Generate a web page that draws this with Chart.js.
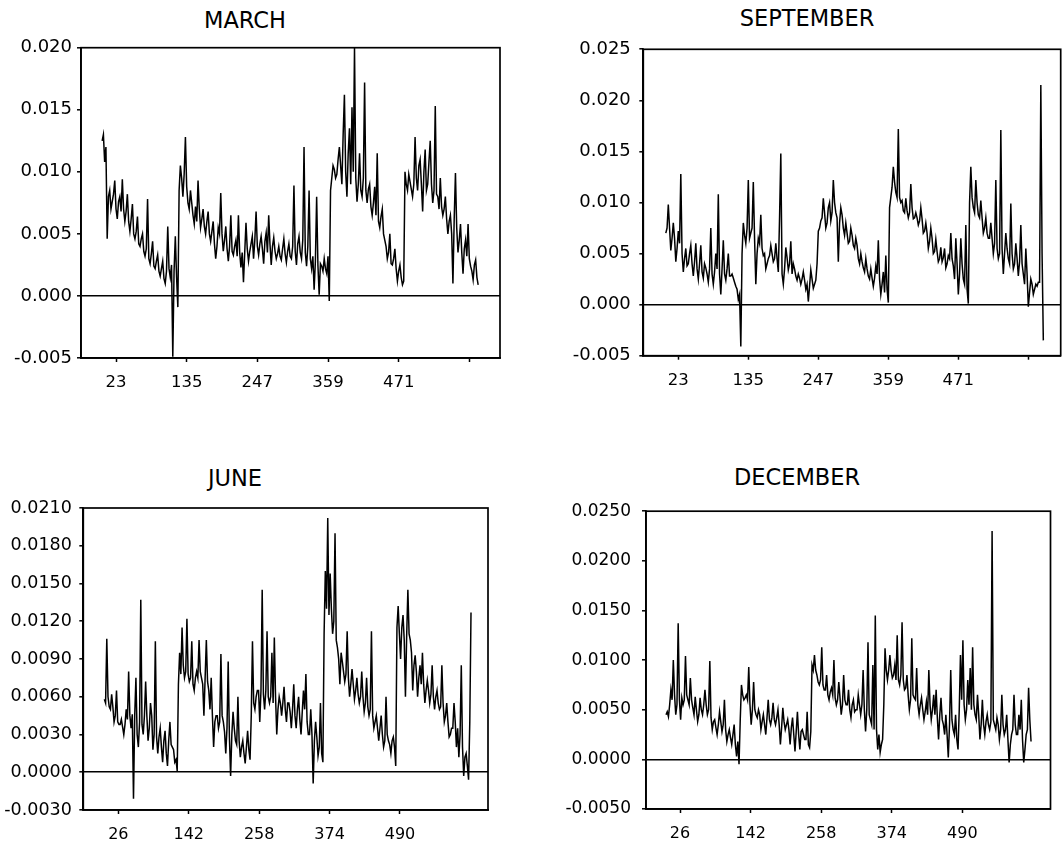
<!DOCTYPE html>
<html>
<head>
<meta charset="utf-8">
<script src="https://cdn.jsdelivr.net/npm/chart.js@4.4.1/dist/chart.umd.min.js"></script>
<style>
  body { margin: 0; background: #fff; width: 1063px; height: 844px; position: relative; overflow: hidden; font-family: 'DejaVu Sans', sans-serif; }
  canvas { position: absolute; }
  .title { position: absolute; transform: translate(-50%, -50%); font-size: 22.5px; line-height: 1; color: #000; white-space: nowrap; }
</style>
</head>
<body>
<div class="title" style="left:245px; top:20px">MARCH</div>
<div class="title" style="left:807px; top:18px">SEPTEMBER</div>
<div class="title" style="left:235px; top:478px">JUNE</div>
<div class="title" style="left:797px; top:477px">DECEMBER</div>
<canvas id="march" width="520" height="380" style="left:0px; top:30px"></canvas>
<canvas id="september" width="523" height="380" style="left:540px; top:30px"></canvas>
<canvas id="june" width="520" height="354" style="left:0px; top:490px"></canvas>
<canvas id="december" width="523" height="354" style="left:540px; top:490px"></canvas>
<script>
// Hourly series, two interleaved readings: "values" every 4th hour from the
// start hour, "mids" every 4th hour from two hours after the start hour.
const sampleStep = 4;

const marchStart = 1;
const marchValues = [
  0.0125, 0.0108, 0.0046, 0.0085, 0.0076, 0.0093, 0.0062, 0.0080, 0.0094, 0.0060,
  0.0082, 0.0052, 0.0074, 0.0046, 0.0064, 0.0040, 0.0050, 0.0032, 0.0078, 0.0026,
  0.0044, 0.0022, 0.0033, 0.0016, 0.0028, 0.0010, 0.0056, 0.0015, -0.0049, 0.0048,
  -0.0009, 0.0105, 0.0080, 0.0128, 0.0075, 0.0085, 0.0065, 0.0072, 0.0093, 0.0055,
  0.0070, 0.0050, 0.0068, 0.0044, 0.0060, 0.0030, 0.0055, 0.0083, 0.0036, 0.0056,
  0.0028, 0.0065, 0.0033, 0.0045, 0.0065, 0.0023, 0.0011, 0.0059, 0.0028, 0.0042,
  0.0030, 0.0068, 0.0033, 0.0048, 0.0026, 0.0051, 0.0065, 0.0025, 0.0047, 0.0030,
  0.0040, 0.0029, 0.0046, 0.0027, 0.0042, 0.0030, 0.0089, 0.0025, 0.0048, 0.0030,
  0.0120, 0.0024, 0.0085, 0.0022, 0.0005, 0.0080, 0.0001, 0.0024, 0.0030, 0.0018,
  -0.0004, 0.0095, 0.0102, 0.0098, 0.0120, 0.0090, 0.0162, 0.0080, 0.0135, 0.0152,
  0.0200, 0.0076, 0.0115, 0.0080, 0.0172, 0.0075, 0.0090, 0.0065, 0.0088, 0.0115,
  0.0055, 0.0070, 0.0045, 0.0030, 0.0050, 0.0025, 0.0038, 0.0012, 0.0025, 0.0009,
  0.0100, 0.0085, 0.0092, 0.0080, 0.0128, 0.0085, 0.0110, 0.0068, 0.0118, 0.0090,
  0.0125, 0.0075, 0.0153, 0.0080, 0.0095, 0.0065, 0.0080, 0.0050, 0.0065, 0.0010,
  0.0099, 0.0035, 0.0058, 0.0018, 0.0045, 0.0058, 0.0024, 0.0013, 0.0029, 0.0009
];
const marchMids = [
  0.0130, 0.0120, 0.0080, 0.0070, 0.0082, 0.0070, 0.0076, 0.0068, 0.0070, 0.0068,
  0.0060, 0.0062, 0.0050, 0.0052, 0.0042, 0.0046, 0.0036, 0.0038, 0.0030, 0.0034,
  0.0024, 0.0028, 0.0020, 0.0022, 0.0014, 0.0020, 0.0022, 0.0025, 0.0020, 0.0015,
  0.0085, 0.0095, 0.0098, 0.0088, 0.0070, 0.0075, 0.0058, 0.0060, 0.0070, 0.0062,
  0.0056, 0.0060, 0.0050, 0.0052, 0.0042, 0.0040, 0.0050, 0.0050, 0.0045, 0.0038,
  0.0040, 0.0036, 0.0040, 0.0032, 0.0035, 0.0035, 0.0035, 0.0038, 0.0036, 0.0048,
  0.0045, 0.0040, 0.0042, 0.0038, 0.0044, 0.0035, 0.0042, 0.0040, 0.0036, 0.0034,
  0.0032, 0.0038, 0.0034, 0.0036, 0.0032, 0.0040, 0.0036, 0.0042, 0.0035, 0.0045,
  0.0035, 0.0040, 0.0030, 0.0032, 0.0028, 0.0025, 0.0026, 0.0020, 0.0022, 0.0032,
  0.0085, 0.0105, 0.0095, 0.0110, 0.0105, 0.0130, 0.0100, 0.0115, 0.0090, 0.0100,
  0.0095, 0.0090, 0.0085, 0.0095, 0.0085, 0.0086, 0.0072, 0.0075, 0.0065, 0.0060,
  0.0064, 0.0050, 0.0040, 0.0035, 0.0026, 0.0030, 0.0022, 0.0020, 0.0015, 0.0012,
  0.0090, 0.0098, 0.0086, 0.0090, 0.0095, 0.0105, 0.0090, 0.0100, 0.0085, 0.0108,
  0.0090, 0.0085, 0.0082, 0.0070, 0.0072, 0.0070, 0.0062, 0.0060, 0.0050, 0.0062,
  0.0055, 0.0045, 0.0035, 0.0038, 0.0032, 0.0030, 0.0020, 0.0025, 0.0015
];

const septemberStart = 3;
const septemberValues = [
  0.0070, 0.0098, 0.0053, 0.0080, 0.0042, 0.0072, 0.0128, 0.0032, 0.0055, 0.0040,
  0.0058, 0.0028, 0.0060, 0.0025, 0.0058, 0.0026, 0.0036, 0.0022, 0.0075, 0.0020,
  0.0050, 0.0108, 0.0010, 0.0063, 0.0024, 0.0050, 0.0028, 0.0026, 0.0018, 0.0005,
  -0.0041, 0.0080, 0.0060, 0.0122, 0.0070, 0.0120, 0.0020, 0.0065, 0.0088, 0.0048,
  0.0035, 0.0045, 0.0058, 0.0042, 0.0060, 0.0032, 0.0148, 0.0020, 0.0056, 0.0034, 0.0062,
  0.0040, 0.0028, 0.0030, 0.0020, 0.0032, 0.0015, 0.0003, 0.0034, 0.0016, 0.0024,
  0.0072, 0.0082, 0.0104, 0.0075, 0.0095, 0.0082, 0.0122, 0.0090, 0.0042, 0.0095,
  0.0075, 0.0080, 0.0060, 0.0075, 0.0058, 0.0065, 0.0045, 0.0050, 0.0036, 0.0045,
  0.0028, 0.0035, 0.0018, 0.0038, 0.0063, 0.0010, 0.0032, 0.0048, 0.0002, 0.0105,
  0.0135, 0.0110, 0.0172, 0.0100, 0.0092, 0.0104, 0.0085, 0.0118, 0.0084, 0.0090,
  0.0078, 0.0095, 0.0070, 0.0080, 0.0055, 0.0075, 0.0050, 0.0064, 0.0042, 0.0056,
  0.0046, 0.0036, 0.0048, 0.0070, 0.0038, 0.0065, 0.0010, 0.0065, 0.0025, 0.0078, 0.0001,
  0.0135, 0.0095, 0.0122, 0.0088, 0.0102, 0.0070, 0.0085, 0.0065, 0.0080, 0.0050,
  0.0122, 0.0045, 0.0171, 0.0030, 0.0070, 0.0045, 0.0099, 0.0035, 0.0060, 0.0028,
  0.0078, 0.0030, 0.0055, -0.0002, 0.0025, 0.0010, 0.0020, 0.0022, 0.0215, -0.0035
];
const septemberMids = [
  0.0075, 0.0075, 0.0065, 0.0065, 0.0055, 0.0060, 0.0050, 0.0045, 0.0038, 0.0050,
  0.0040, 0.0042, 0.0035, 0.0040, 0.0032, 0.0040, 0.0030, 0.0035, 0.0030, 0.0032,
  0.0035, 0.0030, 0.0035, 0.0030, 0.0035, 0.0028, 0.0030, 0.0022, 0.0015, 0.0010,
  0.0050, 0.0068, 0.0075, 0.0065, 0.0075, 0.0065, 0.0050, 0.0060, 0.0055, 0.0050,
  0.0040, 0.0048, 0.0050, 0.0045, 0.0045, 0.0085, 0.0030, 0.0035, 0.0046, 0.0040,
  0.0030, 0.0035, 0.0024, 0.0026, 0.0025, 0.0024, 0.0020, 0.0018, 0.0025, 0.0020,
  0.0040, 0.0075, 0.0085, 0.0090, 0.0080, 0.0100, 0.0090, 0.0100, 0.0085, 0.0080,
  0.0088, 0.0068, 0.0070, 0.0062, 0.0068, 0.0055, 0.0058, 0.0040, 0.0042, 0.0032,
  0.0035, 0.0025, 0.0026, 0.0026, 0.0030, 0.0025, 0.0020, 0.0012, 0.0015, 0.0095,
  0.0115, 0.0120, 0.0105, 0.0105, 0.0102, 0.0090, 0.0092, 0.0090, 0.0095, 0.0085,
  0.0085, 0.0082, 0.0084, 0.0072, 0.0070, 0.0062, 0.0065, 0.0052, 0.0052, 0.0045,
  0.0042, 0.0055, 0.0040, 0.0045, 0.0045, 0.0025, 0.0040, 0.0030, 0.0040, 0.0020, 0.0015,
  0.0100, 0.0105, 0.0090, 0.0100, 0.0085, 0.0085, 0.0075, 0.0070, 0.0065, 0.0065,
  0.0060, 0.0055, 0.0050, 0.0055, 0.0050, 0.0055, 0.0040, 0.0050, 0.0040, 0.0045,
  0.0042, 0.0040, 0.0020, 0.0030, 0.0012, 0.0020, 0.0015, 0.0018, 0.0022, 0.0050
];

const juneStart = 3;
const juneValues = [
  0.0058, 0.0106, 0.0052, 0.0062, 0.0040, 0.0065, 0.0038, 0.0042, 0.0030, 0.0050,
  0.0080, 0.0035, -0.0021, 0.0075, 0.0020, 0.0137, 0.0030, 0.0072, 0.0025, 0.0055,
  0.0018, 0.0104, 0.0015, 0.0035, 0.0008, 0.0033, 0.0005, 0.0040, 0.0020, 0.0008,
  0.0001, 0.0095, 0.0115, 0.0075, 0.0122, 0.0072, 0.0104, 0.0065, 0.0080, 0.0105,
  0.0075, 0.0045, 0.0105, 0.0065, 0.0075, 0.0020, 0.0045, 0.0035, 0.0094, 0.0040,
  0.0015, 0.0088, -0.0003, 0.0048, 0.0025, 0.0060, 0.0012, 0.0025, 0.0007, 0.0033,
  0.0010, 0.0104, 0.0050, 0.0065, 0.0040, 0.0145, 0.0050, 0.0112, 0.0055, 0.0095,
  0.0107, 0.0030, 0.0060, 0.0045, 0.0068, 0.0040, 0.0055, 0.0035, 0.0070, 0.0035,
  0.0060, 0.0030, 0.0065, 0.0078, 0.0030, 0.0050, -0.0009, 0.0040, 0.0013, 0.0055,
  0.0008, 0.0160, 0.0202, 0.0158, 0.0110, 0.0190, 0.0099, 0.0070, 0.0088, 0.0072,
  0.0112, 0.0060, 0.0082, 0.0058, 0.0075, 0.0055, 0.0080, 0.0048, 0.0075, 0.0045,
  0.0112, 0.0035, 0.0045, 0.0025, 0.0045, 0.0020, 0.0060, 0.0025, 0.0015, 0.0028,
  0.0005, 0.0132, 0.0090, 0.0125, 0.0060, 0.0145, 0.0105, 0.0065, 0.0093, 0.0060,
  0.0085, 0.0095, 0.0055, 0.0073, 0.0055, 0.0085, 0.0050, 0.0065, 0.0050, 0.0085,
  0.0040, 0.0055, 0.0028, 0.0035, 0.0055, 0.0020, 0.0012, 0.0085, -0.0003, 0.0015,
  -0.0006, 0.0127
];
const juneMids = [
  0.0055, 0.0060, 0.0050, 0.0052, 0.0045, 0.0040, 0.0038, 0.0036, 0.0038, 0.0042,
  0.0045, 0.0046, 0.0045, 0.0030, 0.0040, 0.0038, 0.0045, 0.0045, 0.0035, 0.0045,
  0.0030, 0.0028, 0.0028, 0.0020, 0.0025, 0.0015, 0.0025, 0.0022, 0.0018, 0.0010,
  0.0070, 0.0078, 0.0085, 0.0080, 0.0078, 0.0075, 0.0070, 0.0075, 0.0075, 0.0080,
  0.0070, 0.0075, 0.0072, 0.0050, 0.0045, 0.0040, 0.0045, 0.0040, 0.0045, 0.0032,
  0.0035, 0.0028, 0.0030, 0.0035, 0.0022, 0.0025, 0.0020, 0.0015, 0.0020, 0.0018,
  0.0045, 0.0055, 0.0060, 0.0065, 0.0065, 0.0062, 0.0065, 0.0060, 0.0060, 0.0055,
  0.0060, 0.0050, 0.0055, 0.0055, 0.0050, 0.0055, 0.0048, 0.0050, 0.0045, 0.0050,
  0.0042, 0.0048, 0.0050, 0.0040, 0.0030, 0.0030, 0.0025, 0.0028, 0.0020, 0.0015,
  0.0110, 0.0130, 0.0125, 0.0130, 0.0120, 0.0105, 0.0090, 0.0095, 0.0080, 0.0078,
  0.0075, 0.0070, 0.0070, 0.0065, 0.0062, 0.0060, 0.0060, 0.0055, 0.0052, 0.0050,
  0.0045, 0.0040, 0.0035, 0.0035, 0.0030, 0.0025, 0.0030, 0.0022, 0.0025, 0.0020,
  0.0115, 0.0110, 0.0115, 0.0105, 0.0108, 0.0110, 0.0095, 0.0085, 0.0080, 0.0075,
  0.0070, 0.0070, 0.0065, 0.0065, 0.0062, 0.0060, 0.0060, 0.0055, 0.0052, 0.0055,
  0.0045, 0.0040, 0.0030, 0.0035, 0.0040, 0.0035, 0.0030, 0.0020, 0.0012, 0.0005,
  0.0040
];

const decemberStart = 3;
const decemberValues = [
  0.0045, 0.0043, 0.0070, 0.0100, 0.0045, 0.0137, 0.0040, 0.0055, 0.0104, 0.0060,
  0.0082, 0.0052, 0.0063, 0.0038, 0.0062, 0.0045, 0.0070, 0.0045, 0.0099, 0.0030,
  0.0040, 0.0025, 0.0048, 0.0028, 0.0060, 0.0018, 0.0030, 0.0015, 0.0035, 0.0003,
  -0.0005, 0.0075, 0.0060, 0.0065, 0.0093, 0.0035, 0.0078, 0.0045, 0.0050, 0.0030,
  0.0045, 0.0025, 0.0060, 0.0035, 0.0057, 0.0035, 0.0050, 0.0015, 0.0052, 0.0030,
  0.0040, 0.0015, 0.0042, 0.0008, 0.0048, 0.0010, 0.0030, 0.0020, 0.0048, 0.0012,
  0.0095, 0.0105, 0.0085, 0.0075, 0.0113, 0.0070, 0.0085, 0.0060, 0.0072, 0.0100,
  0.0055, 0.0078, 0.0045, 0.0085, 0.0055, 0.0070, 0.0042, 0.0060, 0.0050, 0.0065,
  0.0045, 0.0090, 0.0028, 0.0118, 0.0040, 0.0095, 0.0145, 0.0010, 0.0007, 0.0020,
  0.0112, 0.0080, 0.0105, 0.0082, 0.0095, 0.0125, 0.0075, 0.0138, 0.0070, 0.0085,
  0.0050, 0.0122, 0.0062, 0.0092, 0.0045, 0.0062, 0.0040, 0.0058, 0.0090, 0.0040,
  0.0065, 0.0070, 0.0020, 0.0062, 0.0035, 0.0045, 0.0002, 0.0090, 0.0030, 0.0045,
  0.0010, 0.0105, 0.0120, 0.0040, 0.0080, 0.0092, 0.0113, 0.0045, 0.0065, 0.0020,
  0.0060, 0.0025, 0.0045, 0.0030, 0.0230, 0.0035, 0.0042, 0.0020, 0.0065, 0.0025,
  0.0045, -0.0003, 0.0025, 0.0065, 0.0025, 0.0045, 0.0060, -0.0003, 0.0025, 0.0072,
  0.0018
];
const decemberMids = [
  0.0048, 0.0055, 0.0060, 0.0065, 0.0055, 0.0060, 0.0062, 0.0060, 0.0065, 0.0055,
  0.0060, 0.0045, 0.0050, 0.0045, 0.0050, 0.0055, 0.0055, 0.0050, 0.0042, 0.0038,
  0.0032, 0.0035, 0.0038, 0.0035, 0.0030, 0.0025, 0.0022, 0.0025, 0.0015, 0.0018,
  0.0040, 0.0065, 0.0062, 0.0060, 0.0055, 0.0050, 0.0050, 0.0042, 0.0045, 0.0038,
  0.0035, 0.0042, 0.0040, 0.0042, 0.0040, 0.0042, 0.0035, 0.0032, 0.0038, 0.0035,
  0.0030, 0.0032, 0.0025, 0.0028, 0.0025, 0.0028, 0.0025, 0.0020, 0.0015, 0.0028,
  0.0090, 0.0090, 0.0078, 0.0080, 0.0075, 0.0070, 0.0065, 0.0068, 0.0065, 0.0062,
  0.0060, 0.0062, 0.0055, 0.0060, 0.0055, 0.0050, 0.0055, 0.0048, 0.0050, 0.0055,
  0.0055, 0.0050, 0.0050, 0.0045, 0.0035, 0.0030, 0.0030, 0.0025, 0.0015, 0.0055,
  0.0090, 0.0090, 0.0090, 0.0085, 0.0080, 0.0080, 0.0085, 0.0080, 0.0072, 0.0065,
  0.0060, 0.0065, 0.0060, 0.0055, 0.0055, 0.0050, 0.0048, 0.0045, 0.0055, 0.0050,
  0.0045, 0.0042, 0.0045, 0.0040, 0.0025, 0.0025, 0.0035, 0.0040, 0.0025, 0.0020,
  0.0050, 0.0060, 0.0055, 0.0050, 0.0055, 0.0050, 0.0055, 0.0040, 0.0045, 0.0035,
  0.0035, 0.0038, 0.0035, 0.0038, 0.0040, 0.0030, 0.0035, 0.0030, 0.0035, 0.0030,
  0.0020, 0.0015, 0.0030, 0.0035, 0.0025, 0.0030, 0.0020, 0.0010, 0.0030, 0.0040
];

// Axis ticks
const marchHourTicks = [23, 135, 247, 359, 471, 583];
const marchHourLabels = ['23', '135', '247', '359', '471', ''];
const septemberHourTicks = [23, 135, 247, 359, 471, 583];
const septemberHourLabels = ['23', '135', '247', '359', '471', ''];
const juneHourTicks = [26, 142, 258, 374, 490];
const juneHourLabels = ['26', '142', '258', '374', '490'];
const decemberHourTicks = [26, 142, 258, 374, 490];
const decemberHourLabels = ['26', '142', '258', '374', '490'];

const marchValueTicks = [-0.005, 0, 0.005, 0.010, 0.015, 0.020];
const marchValueLabels = ['-0.005', '0.000', '0.005', '0.010', '0.015', '0.020'];
const septemberValueTicks = [-0.005, 0, 0.005, 0.010, 0.015, 0.020, 0.025];
const septemberValueLabels = ['-0.005', '0.000', '0.005', '0.010', '0.015', '0.020', '0.025'];
const juneValueTicks = [-0.003, 0, 0.003, 0.006, 0.009, 0.012, 0.015, 0.018, 0.021];
const juneValueLabels = ['-0.0030', '0.0000', '0.0030', '0.0060', '0.0090', '0.0120', '0.0150', '0.0180', '0.0210'];
const decemberValueTicks = [-0.005, 0, 0.005, 0.010, 0.015, 0.020, 0.025];
const decemberValueLabels = ['-0.0050', '0.0000', '0.0050', '0.0100', '0.0150', '0.0200', '0.0250'];

// Panel layout: canvas box and plot area in page pixels
const panels = [
  { id: 'march', start: marchStart, values: marchValues, mids: marchMids,
    xTicks: marchHourTicks, xLabels: marchHourLabels, yTicks: marchValueTicks, yLabels: marchValueLabels,
    xMin: -32.5, xMax: 631.6, yMin: -0.005, yMax: 0.020,
    box: { left: 0, top: 30, width: 520, height: 380 }, area: { left: 81, top: 47.7, right: 500, bottom: 358 },
    yFont: 18, xFont: 16.5, yPad: 5 },
  { id: 'september', start: septemberStart, values: septemberValues, mids: septemberMids,
    xTicks: septemberHourTicks, xLabels: septemberHourLabels, yTicks: septemberValueTicks, yLabels: septemberValueLabels,
    xMin: -33, xMax: 634.8, yMin: -0.005, yMax: 0.025,
    box: { left: 540, top: 30, width: 523, height: 380 }, area: { left: 643.3, top: 44.5, right: 1060.7, bottom: 355.7 },
    yFont: 18, xFont: 16.5, yPad: 8.5 },
  { id: 'june', start: juneStart, values: juneValues, mids: juneMids,
    xTicks: juneHourTicks, xLabels: juneHourLabels, yTicks: juneValueTicks, yLabels: juneValueLabels,
    xMin: -31.7, xMax: 635, yMin: -0.003, yMax: 0.021,
    box: { left: 0, top: 490, width: 520, height: 354 }, area: { left: 83.3, top: 505.7, right: 488, bottom: 810 },
    yFont: 17.5, xFont: 16, yPad: 7.5 },
  { id: 'december', start: decemberStart, values: decemberValues, mids: decemberMids,
    xTicks: decemberHourTicks, xLabels: decemberHourLabels, yTicks: decemberValueTicks, yLabels: decemberValueLabels,
    xMin: -29.9, xMax: 635, yMin: -0.005, yMax: 0.025,
    box: { left: 540, top: 490, width: 523, height: 354 }, area: { left: 646, top: 503.3, right: 1050.5, bottom: 809 },
    yFont: 17, xFont: 16, yPad: 11 }
];

// Box round the plot area
const framePlugin = {
  id: 'frame',
  afterDatasetsDraw(chart) {
    const { ctx, chartArea: a } = chart;
    ctx.save();
    ctx.strokeStyle = '#000';
    ctx.lineWidth = 1.7;
    ctx.strokeRect(a.left, a.top, a.right - a.left, a.bottom - a.top);
    ctx.restore();
  }
};

function seriesPoints(p) {
  const pts = p.values.map((v, k) => ({ x: p.start + k * sampleStep, y: v }))
    .concat(p.mids.map((v, k) => ({ x: p.start + 2 + k * sampleStep, y: v })));
  return pts.sort((a, b) => a.x - b.x);
}

function drawPanel(p) {
  const axisWidth = p.area.left - p.box.left;
  const axisHeight = p.box.top + p.box.height - p.area.bottom;
  new Chart(document.getElementById(p.id), {
    type: 'line',
    data: { datasets: [{ data: seriesPoints(p), borderColor: '#000', borderWidth: 1.5, pointRadius: 0, tension: 0, fill: false }] },
    options: {
      responsive: false,
      animation: false,
      events: [],
      layout: { padding: { left: 0, top: p.area.top - p.box.top, right: p.box.left + p.box.width - p.area.right, bottom: 0 } },
      plugins: { legend: { display: false }, tooltip: { enabled: false }, title: { display: false } },
      scales: {
        x: {
          type: 'linear', min: p.xMin, max: p.xMax,
          afterBuildTicks: s => { s.ticks = p.xTicks.map(v => ({ value: v })); },
          afterFit: s => { s.height = axisHeight; },
          ticks: { autoSkip: false, maxRotation: 0, padding: 11, color: '#000',
                   font: { family: 'DejaVu Sans', size: p.xFont },
                   callback: (v, i) => p.xLabels[i] },
          grid: { color: 'transparent', drawOnChartArea: false, tickColor: '#000', tickLength: 4, tickWidth: 1.5 },
          border: { display: true, color: '#000', width: 1.7 }
        },
        y: {
          type: 'linear', min: p.yMin, max: p.yMax,
          afterBuildTicks: s => { s.ticks = p.yTicks.map(v => ({ value: v })); },
          afterFit: s => { s.width = axisWidth; },
          ticks: { padding: p.yPad, color: '#000',
                   font: { family: 'DejaVu Sans', size: p.yFont },
                   callback: (v, i) => p.yLabels[i] },
          grid: { color: c => (c.tick && c.tick.value === 0) ? '#000' : 'transparent',
                  lineWidth: 1.6, tickColor: '#000', tickLength: 4, tickWidth: 1.5 },
          border: { display: true, color: '#000', width: 1.7 }
        }
      }
    },
    plugins: [framePlugin]
  });
}

panels.forEach(drawPanel);
</script>
</body>
</html>
